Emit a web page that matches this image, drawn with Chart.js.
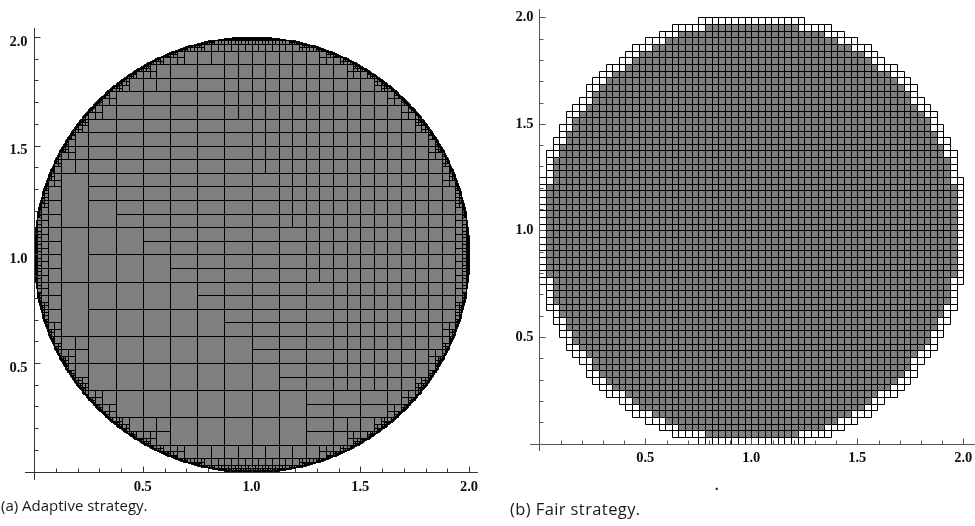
<!DOCTYPE html>
<html>
<head>
<meta charset="utf-8">
<script src="https://cdn.jsdelivr.net/npm/chart.js@4.4.1/dist/chart.umd.min.js"></script>
<style>
  html, body { margin: 0; padding: 0; background: #fff; width: 975px; height: 526px; overflow: hidden; }
  #wrap { position: relative; width: 975px; height: 526px; }
  canvas { position: absolute; top: 0; }
  #cA { left: 0; }
  #cB { left: 490px; }
  .cap { position: absolute; font-family: "Open Sans", sans-serif; color: #1a1a1a; white-space: nowrap; line-height: 20px; }
  #capA { left: 1px; top: 495px; font-size: 15px; }
  #capB { left: 510px; top: 499px; font-size: 16.5px; letter-spacing: 0.4px; }
  #dot { position: absolute; left: 715px; top: 479px; font: bold 14px "Liberation Serif", serif; line-height: 14px; color: #111; }
</style>
</head>
<body>
<div id="wrap">
  <canvas id="cA" width="490" height="526"></canvas>
  <canvas id="cB" width="485" height="526"></canvas>
  <div class="cap" id="capA">(a) Adaptive strategy.</div>
  <div class="cap" id="capB">(b) Fair strategy.</div>
  <div id="dot">.</div>
</div>
<script>
// ---- shared axis data ----
const axisMin = 0;
const axisMax = 2;
const majorTicks = [0.5, 1.0, 1.5, 2.0];
const majorLabels = ['0.5', '1.0', '1.5', '2.0'];
const minorTicks = [0.1, 0.2, 0.3, 0.4, 0.6, 0.7, 0.8, 0.9, 1.1, 1.2, 1.3, 1.4, 1.6, 1.7, 1.8, 1.9];

// ---- the domain: disc of centre (1,1), radius 1 ----
const circleCentre = [1, 1];
const circleRadius = 1;

// ---- adaptive strategy ----
// 16x16 blocks of side 1/8, top row first.
// Q = whole 1/8 block, H = two 1/8 x 1/16 slabs, U = four 1/16 cells,
// T = 1/8 x 1/4 block reaching into the row below, '.' = covered by T.
const adaptiveBlocks = [
  'UUUUUUUUUUUUUUUU',
  'UUUUUHHUUUUUUUUU',
  'UUUHHHHUUUUUUUUU',
  'UUHHHHHHUUUUUUUU',
  'UUHHHHHHUUUUUUUU',
  'UTHHHHHHHUUUUUUU',
  'U.QHHHHHHUUUUUUU',
  'UTQQHHHHHHUUUUUU',
  'U.QQQHHHHHUUUUUU',
  'UTQQQQHHHHHUUUUU',
  'U.QQQQQHHHHUUUUU',
  'UUQQQQQQHHHUUUUU',
  'UUQQQQQQQHHUUUUU',
  'UUUQQQQQQQHHHUUU',
  'UUUUUQQQQQHUUUUU',
  'UUUUUUUUUUUUUUUU'
];
const blockSide = 1 / 8;
const unitSide = 1 / 16;
const finestSide = 1 / 256;

// ---- fair strategy ----
// uniform 1/32 grid; for each row above the centre line (row 1 = nearest),
// cells on each side of x = 1 lying fully inside, and cells reaching the rim.
const fairSide = 1 / 32;
const fairInteriorHalf = [31,31,31,31,31,31,31,30,30,30,30,29,29,28,28,27,27,26,25,24,24,23,22,21,19,18,17,15,13,11,7,0];
const fairBoundaryHalf = [32,32,32,32,32,32,32,32,31,31,31,31,30,30,29,29,28,28,27,26,25,25,24,23,22,20,19,18,16,14,12,8];

// ---- geometry helpers ----
const [cx, cy] = circleCentre;
const r2 = circleRadius * circleRadius;
function farDist2(x0, y0, w, h) {
  const dx = Math.max(Math.abs(x0 - cx), Math.abs(x0 + w - cx));
  const dy = Math.max(Math.abs(y0 - cy), Math.abs(y0 + h - cy));
  return dx * dx + dy * dy;
}
function nearDist2(x0, y0, w, h) {
  const dx = Math.max(x0 - cx, 0, cx - (x0 + w));
  const dy = Math.max(y0 - cy, 0, cy - (y0 + h));
  return dx * dx + dy * dy;
}

// quadtree refinement of a square cell along the rim
function refine(x0, y0, s, out) {
  if (nearDist2(x0, y0, s, s) >= r2 - 1e-12) return;
  if (farDist2(x0, y0, s, s) <= r2 + 1e-12 || s <= finestSide + 1e-12) {
    out.push({ x: x0, y: y0, w: s, h: s });
    return;
  }
  const h = s / 2;
  refine(x0, y0, h, out);
  refine(x0 + h, y0, h, out);
  refine(x0, y0 + h, h, out);
  refine(x0 + h, y0 + h, h, out);
}

function addRect(x0, y0, w, h, out) {
  if (farDist2(x0, y0, w, h) <= r2 + 1e-12) {
    out.push({ x: x0, y: y0, w: w, h: h });
    return;
  }
  for (let xx = x0; xx < x0 + w - 1e-9; xx += unitSide)
    for (let yy = y0; yy < y0 + h - 1e-9; yy += unitSide)
      refine(xx, yy, unitSide, out);
}

function buildAdaptive() {
  const out = [];
  const rows = adaptiveBlocks.length;
  adaptiveBlocks.forEach((row, k) => {
    const p = rows - 1 - k;
    [...row].forEach((code, q) => {
      const x0 = q * blockSide, y0 = p * blockSide;
      if (code === 'Q') addRect(x0, y0, blockSide, blockSide, out);
      else if (code === 'H') {
        addRect(x0, y0, blockSide, unitSide, out);
        addRect(x0, y0 + unitSide, blockSide, unitSide, out);
      } else if (code === 'T') addRect(x0, y0 - blockSide, blockSide, 2 * blockSide, out);
      else if (code === 'U') {
        for (let a = 0; a < 2; a++)
          for (let b = 0; b < 2; b++)
            addRect(x0 + a * unitSide, y0 + b * unitSide, unitSide, unitSide, out);
      }
    });
  });
  return out;
}

function buildFair() {
  const inner = [], rim = [];
  for (let b = 1; b <= fairInteriorHalf.length; b++) {
    const nIn = fairInteriorHalf[b - 1], nAll = fairBoundaryHalf[b - 1];
    for (const vs of [1, -1]) {
      const y0 = vs > 0 ? cy + (b - 1) * fairSide : cy - b * fairSide;
      for (let a = 1; a <= nAll; a++) {
        for (const hs of [1, -1]) {
          const x0 = hs > 0 ? cx + (a - 1) * fairSide : cx - a * fairSide;
          (a <= nIn ? inner : rim).push({ x: x0, y: y0, w: fairSide, h: fairSide });
        }
      }
    }
  }
  return { inner, rim };
}

// ---- plugins ----
const cellPlugin = {
  id: 'cellRects',
  afterDatasetsDraw(chart) {
    const { ctx, scales: { x, y } } = chart;
    chart.data.datasets.forEach(ds => {
      const boxes = ds.data.map(c => {
        const l = Math.round(x.getPixelForValue(c.x));
        const rr = Math.round(x.getPixelForValue(c.x + c.w));
        const t = Math.round(y.getPixelForValue(c.y + c.h));
        const bt = Math.round(y.getPixelForValue(c.y));
        return [l, t, rr - l, bt - t];
      });
      ctx.save();
      ctx.fillStyle = ds.backgroundColor;
      boxes.forEach(b => ctx.fillRect(b[0], b[1], b[2] + 1, b[3] + 1));
      ctx.strokeStyle = ds.borderColor;
      ctx.lineWidth = 1;
      ctx.beginPath();
      boxes.forEach(b => ctx.rect(b[0] + 0.5, b[1] + 0.5, b[2], b[3]));
      ctx.stroke();
      ctx.restore();
    });
  }
};

const axesPlugin = {
  id: 'crossAxes',
  afterDraw(chart, args, o) {
    const { ctx, scales: { x, y } } = chart;
    const X = v => x.getPixelForValue(v), Y = v => y.getPixelForValue(v);
    const ox = Math.round(X(0)) + 0.5, oy = Math.round(Y(0)) + 0.5;
    ctx.save();
    ctx.strokeStyle = o.color;
    ctx.lineWidth = 1;
    ctx.beginPath();
    ctx.moveTo(Math.round(X(o.xExtent[0])), oy);
    ctx.lineTo(Math.round(X(o.xExtent[1])), oy);
    ctx.moveTo(ox, Math.round(Y(o.yExtent[0])));
    ctx.lineTo(ox, Math.round(Y(o.yExtent[1])));
    const tick = (v, len) => {
      const px = Math.round(X(v)) + 0.5;
      ctx.moveTo(px, oy); ctx.lineTo(px, oy - len);
      const py = Math.round(Y(v)) + 0.5;
      ctx.moveTo(ox, py); ctx.lineTo(ox + len, py);
    };
    minorTicks.forEach(v => tick(v, 4));
    majorTicks.forEach(v => tick(v, 6));
    ctx.stroke();
    ctx.fillStyle = '#111';
    ctx.font = 'bold 14.5px "Liberation Serif", serif';
    ctx.textBaseline = 'middle';
    majorTicks.forEach((v, i) => {
      ctx.textAlign = 'center';
      ctx.fillText(majorLabels[i], X(v), oy + o.xLabelDy);
      ctx.textAlign = 'right';
      ctx.fillText(majorLabels[i], ox - o.yLabelDx, Y(v) + o.yLabelDy);
    });
    ctx.restore();
  }
};

function makeChart(id, datasets, padding, axisOpts) {
  return new Chart(document.getElementById(id), {
    type: 'scatter',
    data: { datasets },
    options: {
      responsive: false,
      devicePixelRatio: 1,
      animation: false,
      events: [],
      layout: { padding },
      scales: {
        x: { type: 'linear', min: axisMin, max: axisMax, display: false },
        y: { type: 'linear', min: axisMin, max: axisMax, display: false }
      },
      plugins: { legend: { display: false }, tooltip: { enabled: false }, crossAxes: axisOpts },
      elements: { point: { radius: 0 } }
    },
    plugins: [cellPlugin, axesPlugin]
  });
}

const adaptiveCells = buildAdaptive();
makeChart('cA',
  [{ label: 'adaptive cells', data: adaptiveCells, backgroundColor: '#808080', borderColor: '#000', pointRadius: 0 }],
  { left: 34, right: 21, top: 37, bottom: 54.3 },
  { color: '#333', xExtent: [-0.04, 2.04], yExtent: [-0.04, 2.04], xLabelDy: 15, yLabelDx: 7, yLabelDy: 5 });

const fair = buildFair();
makeChart('cB',
  [
    { label: 'interior cells', data: fair.inner, backgroundColor: '#808080', borderColor: '#000', pointRadius: 0 },
    { label: 'rim cells', data: fair.rim, backgroundColor: '#ffffff', borderColor: '#000', pointRadius: 0 }
  ],
  { left: 49.3, right: 11.7, top: 17.3, bottom: 82.5 },
  { color: '#555', xExtent: [-0.044, 2.06], yExtent: [-0.034, 2.037], xLabelDy: 13.5, yLabelDx: 6, yLabelDy: 0 });
</script>
</body>
</html>
